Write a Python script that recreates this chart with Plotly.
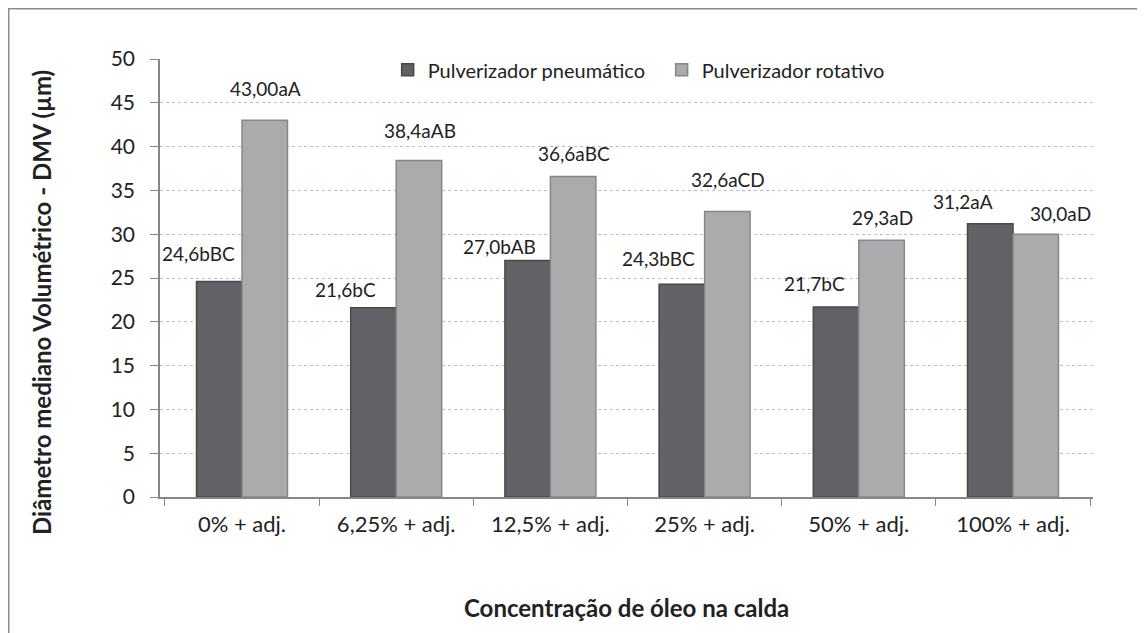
import plotly.graph_objects as go

categories = ["0% + adj.", "6,25% + adj.", "12,5% + adj.", "25% + adj.", "50% + adj.", "100% + adj."]
pneumatico = [24.6, 21.6, 27.0, 24.3, 21.7, 31.2]
rotativo = [43.0, 38.4, 36.6, 32.6, 29.3, 30.0]
pneumatico_labels = ["24,6bBC", "21,6bC", "27,0bAB", "24,3bBC", "21,7bC", "31,2aA"]
rotativo_labels = ["43,00aA", "38,4aAB", "36,6aBC", "32,6aCD", "29,3aD", "30,0aD"]

# manual placement of the data labels (pixels), as in the original
pn_dx = [-20, -27, -27, -23, -21, -27]
pn_dy = [28, 18, 14, 26, 23, 22]
ro_dx = [0, 0, 0, 0, 0, 24]
ro_dy = [32, 30, 23, 32, 23, 21]

W, H = 1145, 633
ML, MR, MT, MB = 152, 60, 51, 144
FONT = "Lato, Open Sans, sans-serif"
DARK = "#606265"
LIGHT = "#a9abad"
TXT = "#222222"

pw = W - ML - MR
ph = H - MT - MB

fig = go.Figure()
fig.add_trace(go.Bar(
    x=categories, y=pneumatico, name="Pulverizador pneumático",
    marker=dict(color=DARK, line=dict(color="#46484a", width=1.5)),
))
fig.add_trace(go.Bar(
    x=categories, y=rotativo, name="Pulverizador rotativo",
    marker=dict(color=LIGHT, line=dict(color="#85878a", width=1.5)),
))

half = 23.5  # half bar width in px
for i, c in enumerate(categories):
    fig.add_annotation(x=c, y=pneumatico[i], text=pneumatico_labels[i], showarrow=False,
                       xshift=-half + pn_dx[i], yshift=pn_dy[i],
                       font=dict(size=19, color=TXT, family=FONT))
    fig.add_annotation(x=c, y=rotativo[i], text=rotativo_labels[i], showarrow=False,
                       xshift=half + ro_dx[i], yshift=ro_dy[i],
                       font=dict(size=19, color=TXT, family=FONT))

# axis titles
fig.add_annotation(xref="paper", yref="paper", x=(33 - ML) / pw, y=1 - (295 - MT) / ph,
                   xanchor="center", yanchor="middle",
                   text="<b>Diâmetro mediano Volumétrico - DMV (µm)</b>", textangle=-90,
                   showarrow=False, font=dict(size=24, color=TXT, family=FONT))
fig.add_annotation(xref="paper", yref="paper", x=0.5, y=-(599 - MT - ph) / ph,
                   xanchor="center", yanchor="middle",
                   text="<b>Concentração de óleo na calda</b>",
                   showarrow=False, font=dict(size=24, color=TXT, family=FONT))

# chart border (only top/left visible in the original crop)
fig.add_shape(type="rect", xref="paper", yref="paper",
              x0=(0.75 - ML) / pw, x1=(W + 10 - ML) / pw,
              y0=-(H + 10 - MT - ph) / ph, y1=1 + (MT - 0.75) / ph,
              line=dict(color="#8c8c8c", width=1.5))

fig.update_layout(
    width=W, height=H,
    margin=dict(l=ML, r=MR, t=MT, b=MB),
    plot_bgcolor="white", paper_bgcolor="white",
    barmode="group", bargap=0.41, bargroupgap=0,
    font=dict(family=FONT, color=TXT),
    showlegend=True,
    legend=dict(orientation="h", x=0.244, y=1.02, xanchor="left", yanchor="top",
                font=dict(size=20, family=FONT), entrywidth=229, entrywidthmode="pixels",
                bgcolor="rgba(0,0,0,0)"),
    xaxis=dict(
        showline=True, linecolor="#878787", linewidth=1.5,
        ticks="outside", tickson="boundaries", ticklen=7, tickcolor="#878787",
        tickfont=dict(size=22, color=TXT), showgrid=False, ticklabelstandoff=7,
    ),
    yaxis=dict(
        range=[0, 50], dtick=5, showline=True, linecolor="#878787", linewidth=1.5,
        ticks="outside", ticklen=8, tickcolor="#878787", tickfont=dict(size=21, color=TXT),
        ticklabelstandoff=11,
        showgrid=True, gridcolor="#a9bde6", griddash="dot", gridwidth=1,
        zeroline=False,
    ),
)

fig.write_html("out.html")
